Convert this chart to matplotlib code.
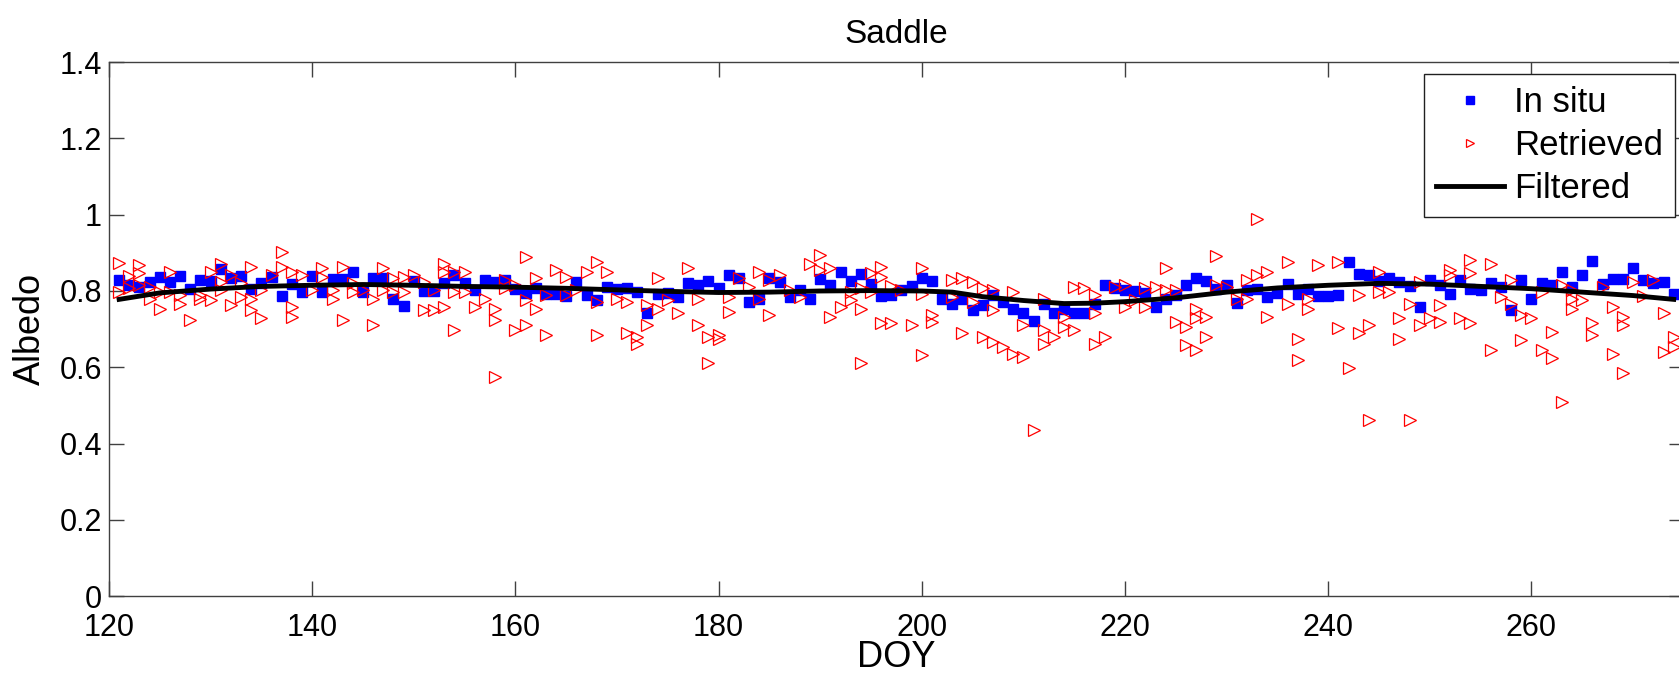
import matplotlib
matplotlib.use("Agg")
import matplotlib.pyplot as plt
import numpy as np

plt.rcParams.update({
    "font.family": ["Liberation Sans", "DejaVu Sans"],
    "font.size": 21,
})

# In situ albedo, one value per day (DOY 121..274)
insitu_doy = np.arange(121, 275)
insitu_alb = [
    0.83, 0.815, 0.81, 0.824, 0.837, 0.824, 0.84, 0.805, 0.828, 0.827,
    0.857, 0.833, 0.84, 0.805, 0.822, 0.837, 0.787, 0.818, 0.798, 0.84,
    0.798, 0.831, 0.831, 0.849, 0.798, 0.833, 0.835, 0.78, 0.76, 0.827,
    0.80, 0.80, 0.82, 0.842, 0.821, 0.802, 0.828, 0.824, 0.828, 0.805,
    0.795, 0.809, 0.792, 0.792, 0.787, 0.824, 0.789, 0.776, 0.811, 0.806,
    0.808, 0.798, 0.741, 0.793, 0.795, 0.785, 0.821, 0.815, 0.826, 0.809,
    0.842, 0.833, 0.772, 0.78, 0.833, 0.824, 0.785, 0.802, 0.778, 0.831,
    0.815, 0.85, 0.827, 0.844, 0.818, 0.787, 0.789, 0.802, 0.813, 0.833,
    0.827, 0.78, 0.765, 0.778, 0.75, 0.763, 0.789, 0.772, 0.754, 0.741,
    0.721, 0.767, 0.743, 0.752, 0.741, 0.743, 0.766, 0.815, 0.809, 0.802,
    0.80, 0.795, 0.758, 0.778, 0.789, 0.815, 0.833, 0.827, 0.804, 0.815,
    0.769, 0.802, 0.806, 0.783, 0.795, 0.818, 0.792, 0.806, 0.787, 0.787,
    0.789, 0.875, 0.844, 0.842, 0.826, 0.835, 0.824, 0.813, 0.757, 0.83,
    0.815, 0.792, 0.828, 0.806, 0.802, 0.821, 0.811, 0.75, 0.828, 0.778,
    0.821, 0.815, 0.849, 0.811, 0.843, 0.879, 0.818, 0.831, 0.831, 0.859,
    0.828, 0.82, 0.824, 0.793,
]

# Retrieved albedo (several retrievals per day)
retr_doy = [
    121, 121, 122, 122, 123, 123, 123, 124, 124, 125, 125, 126, 126, 127, 127,
    128, 129, 129, 130, 130, 131, 131, 131, 132, 132, 133, 133, 134, 134, 134,
    135, 135, 136, 137, 137, 138, 138, 138, 139, 140, 141, 141, 142, 142, 143,
    143, 144, 144, 145, 146, 146, 147, 147, 148, 148, 149, 149, 150, 151, 151,
    152, 152, 153, 153, 153,
    154, 154, 154, 155, 155, 156, 157, 158, 158, 158, 159, 159, 160, 160, 161,
    161, 161, 162, 162, 163, 163, 164, 165, 165, 166, 167, 168, 168, 168, 169,
    170, 171, 171, 172, 172, 173, 173, 174, 174, 175, 176, 177, 178, 178, 179,
    179, 180, 180, 181, 181, 182, 183, 184, 184,
    185, 185, 186, 187, 188, 189, 190, 190, 191, 191, 192, 193, 193, 194, 194,
    194, 195, 195, 196, 196, 196, 197, 197, 198, 199, 200, 200, 200, 201, 201,
    203, 203, 204, 204, 205, 205, 206, 206, 207, 207, 207, 208, 209, 209, 210,
    210, 211, 212, 212, 212, 213, 214, 214,
    215, 215, 216, 217, 217, 217, 218, 219, 220, 220, 221, 222, 222, 223, 224,
    224, 225, 225, 226, 226, 227, 227, 227, 228, 228, 229, 229, 230, 231, 232,
    232, 233, 233, 234, 234, 236, 236, 237, 237, 238, 238, 239, 241, 241, 242,
    243, 243, 244, 244, 245, 245,
    246, 247, 247, 248, 248, 249, 249, 250, 251, 251, 252, 252, 253, 254, 254,
    254, 256, 256, 257, 258, 258, 259, 259, 260, 261, 261, 262, 262, 263, 263,
    264, 264, 264, 265, 266, 266, 267, 268, 268, 269, 269, 269, 270, 271, 272,
    273, 273, 274, 274,
]
retr_alb = [
    0.873, 0.797, 0.84, 0.808, 0.868, 0.846, 0.815, 0.811, 0.78, 0.754, 0.798,
    0.85, 0.798, 0.789, 0.767, 0.723, 0.789, 0.78, 0.85, 0.776, 0.872, 0.824,
    0.802, 0.842, 0.763, 0.82, 0.785, 0.863, 0.78, 0.75, 0.802, 0.728, 0.842,
    0.903, 0.863, 0.85, 0.758, 0.732, 0.842, 0.802, 0.859, 0.837, 0.802, 0.78,
    0.863, 0.723, 0.82, 0.798, 0.802, 0.78, 0.71, 0.859, 0.802, 0.833, 0.798,
    0.837, 0.798, 0.842, 0.824, 0.75, 0.802, 0.75, 0.872, 0.85, 0.758,
    0.85, 0.798, 0.697, 0.85, 0.798, 0.758, 0.78, 0.754, 0.723, 0.575, 0.828,
    0.807, 0.815, 0.697, 0.89, 0.776, 0.71, 0.833, 0.754, 0.789, 0.684, 0.855,
    0.837, 0.789, 0.802, 0.85, 0.876, 0.772, 0.684, 0.85, 0.78, 0.772, 0.689,
    0.68, 0.662, 0.763, 0.71, 0.833, 0.754, 0.776, 0.743, 0.859, 0.78, 0.71,
    0.68, 0.61, 0.684, 0.675, 0.785, 0.745, 0.833, 0.811, 0.85, 0.78,
    0.828, 0.737, 0.842, 0.802, 0.783, 0.872, 0.894, 0.855, 0.859, 0.732,
    0.758, 0.776, 0.798, 0.807, 0.754, 0.61, 0.846, 0.798, 0.863, 0.837, 0.717,
    0.813, 0.717, 0.802, 0.71, 0.859, 0.793, 0.632, 0.737, 0.719, 0.828, 0.785,
    0.833, 0.689, 0.824, 0.772, 0.807, 0.68, 0.802, 0.75, 0.667, 0.654, 0.798,
    0.636, 0.71, 0.627, 0.435, 0.78, 0.697, 0.662, 0.68, 0.732, 0.706,
    0.811, 0.697, 0.807, 0.789, 0.741, 0.662, 0.68, 0.811, 0.815, 0.758, 0.776,
    0.807, 0.758, 0.811, 0.859, 0.802, 0.802, 0.719, 0.706, 0.658, 0.754, 0.728,
    0.645, 0.732, 0.68, 0.891, 0.815, 0.811, 0.78, 0.828, 0.78, 0.988, 0.842,
    0.85, 0.732, 0.876, 0.767, 0.675, 0.619, 0.78, 0.752, 0.868, 0.876, 0.702,
    0.597, 0.789, 0.689, 0.71, 0.461, 0.85, 0.798,
    0.798, 0.728, 0.675, 0.767, 0.461, 0.824, 0.71, 0.728, 0.763, 0.719, 0.855,
    0.842, 0.728, 0.881, 0.846, 0.715, 0.872, 0.645, 0.783, 0.828, 0.767, 0.737,
    0.671, 0.728, 0.798, 0.645, 0.693, 0.623, 0.815, 0.509, 0.802, 0.78, 0.754,
    0.776, 0.715, 0.684, 0.811, 0.758, 0.636, 0.732, 0.71, 0.584, 0.824, 0.787,
    0.828, 0.741, 0.641, 0.68, 0.653,
]

# Filtered (smoothed) albedo
filt_doy = [121, 125, 130, 135, 140, 145, 150, 155, 160, 165, 170, 175, 180,
            185, 190, 195, 200, 203, 206, 210, 214, 217, 220, 225, 230, 235,
            240, 245, 250, 255, 260, 265, 270, 274]
filt_alb = [0.778, 0.795, 0.805, 0.812, 0.815, 0.817, 0.815, 0.812, 0.81,
            0.807, 0.803, 0.799, 0.796, 0.797, 0.80, 0.801, 0.80, 0.797,
            0.785, 0.775, 0.767, 0.768, 0.772, 0.782, 0.797, 0.808, 0.815,
            0.82, 0.818, 0.812, 0.806, 0.797, 0.788, 0.778]

fig = plt.figure(figsize=(16.79, 6.74), dpi=100)
ax = fig.add_axes([0.0649, 0.1157, 0.938, 0.792])

ax.plot(insitu_doy, insitu_alb, linestyle="none", marker="s", ms=7,
        mfc="#0000ff", mec="#0000ff", label="In situ", zorder=2)
ax.plot(retr_doy, retr_alb, linestyle="none", marker=">", ms=8,
        mfc="none", mec="#ff0000", mew=0.9, label="Retrieved", zorder=3)
ax.plot(filt_doy, filt_alb, color="black", lw=3.5, label="Filtered", zorder=4)

ax.set_xlim(120, 275)
ax.set_ylim(0, 1.4)
ax.set_xticks(range(120, 261, 20))
yt = [0, 0.2, 0.4, 0.6, 0.8, 1.0, 1.2, 1.4]
ax.set_yticks(yt)
ax.set_yticklabels([f"{v:g}" for v in yt])
ax.tick_params(direction="in", length=11, width=1, top=True, right=True,
               labelsize=22, color="#404040")
ax.tick_params(axis="x", pad=12)
ax.tick_params(axis="y", pad=5)
for s in ax.spines.values():
    s.set_color("#404040")
    s.set_linewidth(1)

ax.set_xlabel("DOY", fontsize=26, labelpad=-2)
ax.set_ylabel("Albedo", fontsize=26, labelpad=8)
ax.set_title("Saddle", fontsize=24, pad=14)

leg = ax.legend(loc="upper right", bbox_to_anchor=(0.9943, 0.9775),
                borderaxespad=0, fontsize=25, fancybox=False, framealpha=1,
                edgecolor="#202020", handlelength=1.95, handletextpad=0.28,
                labelspacing=0.28, borderpad=0.35, markerscale=0.8)
leg.get_frame().set_linewidth(1)

fig.savefig("out.png", dpi=100)
